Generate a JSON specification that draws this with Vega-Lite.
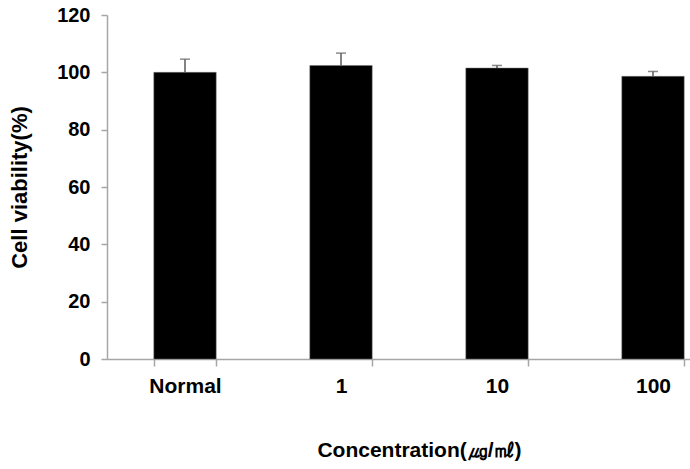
{
  "$schema": "https://vega.github.io/schema/vega-lite/v6.json",
  "autosize": {"type": "none"},
  "width": 583,
  "height": 344,
  "padding": {"left": 107, "top": 15, "right": 0, "bottom": 110},
  "background": "white",
  "config": {
    "view": {"stroke": null},
    "font": "Liberation Sans",
    "axis": {
      "grid": false,
      "domainColor": "#a6a6a6",
      "tickColor": "#a6a6a6",
      "domainWidth": 1.5,
      "tickWidth": 1.5,
      "labelColor": "black",
      "labelFont": "Liberation Sans",
      "labelFontWeight": "bold",
      "titleFont": "Liberation Sans",
      "titleFontWeight": "bold",
      "titleColor": "black"
    }
  },
  "data": {
    "values": [
      {"group": "Normal", "viability": 100.0, "upper": 104.6},
      {"group": "1", "viability": 102.4, "upper": 106.7},
      {"group": "10", "viability": 101.5, "upper": 102.4},
      {"group": "100", "viability": 98.6, "upper": 100.3}
    ]
  },
  "encoding": {
    "x": {
      "field": "group",
      "type": "nominal",
      "sort": null,
      "scale": {"range": [0, 624], "paddingInner": 0.6, "paddingOuter": 0.3},
      "axis": {
        "title": "Concentration(㎍/㎖)",
        "labelAngle": 0,
        "labelFontSize": 21,
        "tickSize": 7,
        "tickBand": "extent",
        "labelPadding": 9,
        "titleFontSize": 21,
        "titlePadding": 43
      }
    }
  },
  "layer": [
    {
      "mark": {"type": "bar", "color": "black", "stroke": "#777777", "strokeWidth": 0.5},
      "encoding": {
        "y": {
          "field": "viability",
          "type": "quantitative",
          "scale": {"domain": [0, 120], "nice": false},
          "axis": {
            "title": "Cell viability(%)",
            "values": [0, 20, 40, 60, 80, 100, 120],
            "labelFontSize": 20,
            "tickSize": 6,
            "labelPadding": 11,
            "titleFontSize": 22,
            "titlePadding": 25
          }
        }
      }
    },
    {
      "mark": {"type": "rule", "color": "#5a5a5a", "strokeWidth": 1.5},
      "encoding": {
        "y": {"field": "viability", "type": "quantitative"},
        "y2": {"field": "upper"}
      }
    },
    {
      "mark": {"type": "tick", "color": "#5a5a5a", "size": 10, "thickness": 1.5},
      "encoding": {
        "y": {"field": "upper", "type": "quantitative"}
      }
    }
  ]
}
